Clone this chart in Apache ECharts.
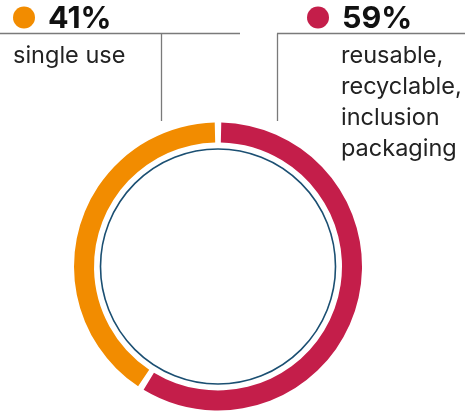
<!DOCTYPE html>
<html>
<head>
<meta charset="utf-8">
<script src="https://cdn.jsdelivr.net/npm/echarts@6/dist/echarts.min.js"></script>
<style>
html,body{margin:0;padding:0;background:#fff;}
#chart{width:465px;height:417px;}
</style>
</head>
<body>
<div id="chart"></div>
<script>
// Packaging share, drawn clockwise from 12 o'clock
const categories = ['reusable, recyclable, inclusion packaging', 'single use'];
const shares = [59, 41];
const colors = ['#C41E4A', '#F28C00'];
const descLines = [['reusable,', 'recyclable,', 'inclusion', 'packaging'], ['single use']];

const chart = echarts.init(document.getElementById('chart'), null, { renderer: 'canvas' });

const FONT = 'Inter, Roboto, "Noto Sans", sans-serif';
const cx = 218, cy = 266.5;

// Callout blocks: dot position, text start, leader lines
const callouts = [
  { idx: 1, dotX: 24, textX: 13, lineX0: 0, lineX1: 240, vX: 161.5 },
  { idx: 0, dotX: 318, textX: 341, lineX0: 277, lineX1: 465, vX: 277.5 }
];

const graphics = [
  // thin inner circle
  { type: 'circle', shape: { cx: cx, cy: cy, r: 117.5 }, style: { fill: null, stroke: '#1B4F72', lineWidth: 1.6 }, silent: true }
];

callouts.forEach(c => {
  const i = c.idx;
  graphics.push({ type: 'circle', shape: { cx: c.dotX, cy: 17.5, r: 11 }, style: { fill: colors[i] } });
  graphics.push({
    type: 'text', x: c.dotX + 24, y: 18.5, style: {
      text: shares[i] + '%', font: 'bold 30.5px ' + FONT, fill: '#111', verticalAlign: 'middle'
    }
  });
  graphics.push({ type: 'line', shape: { x1: c.lineX0, y1: 33.5, x2: c.lineX1, y2: 33.5 }, style: { stroke: '#7a7a7a', lineWidth: 1.3 } });
  graphics.push({ type: 'line', shape: { x1: c.vX, y1: 33.5, x2: c.vX, y2: 121 }, style: { stroke: '#7a7a7a', lineWidth: 1.3 } });
  descLines[i].forEach((t, k) => {
    graphics.push({
      type: 'text', x: c.textX, y: 55.5 + k * 31, style: {
        text: t, font: '23.5px ' + FONT, fill: '#222', verticalAlign: 'middle'
      }
    });
  });
});

chart.setOption({
  animation: false,
  graphic: graphics,
  series: [{
    type: 'pie',
    center: [cx, cy],
    radius: [124, 144],
    startAngle: 90,
    clockwise: true,
    padAngle: 2.6,
    label: { show: false },
    labelLine: { show: false },
    silent: true,
    data: categories.map((name, i) => ({ name: name, value: shares[i], itemStyle: { color: colors[i] } }))
  }]
});
</script>
</body>
</html>
